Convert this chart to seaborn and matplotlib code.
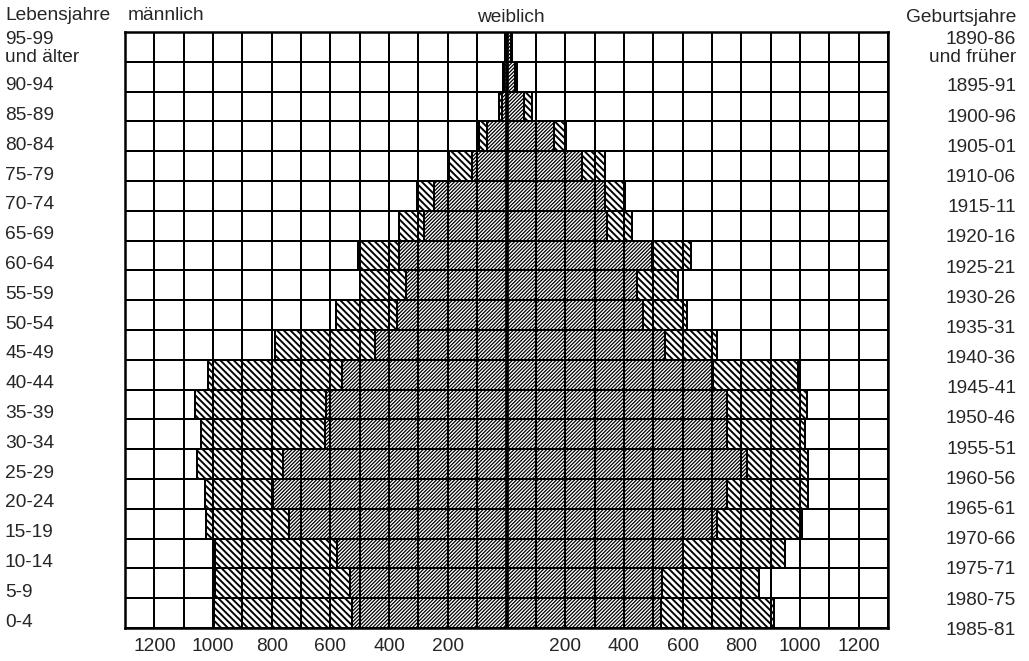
import numpy as np
import matplotlib
matplotlib.use('Agg')
import matplotlib.pyplot as plt
import matplotlib.transforms as mtransforms
from matplotlib.ticker import FixedLocator, MultipleLocator, FuncFormatter
import seaborn as sns

# Altersgruppen (oben nach unten) und Geburtsjahrgaenge
ages = ['95-99\nund älter', '90-94', '85-89', '80-84', '75-79', '70-74', '65-69',
        '60-64', '55-59', '50-54', '45-49', '40-44', '35-39', '30-34', '25-29',
        '20-24', '15-19', '10-14', '5-9', '0-4']
birth_years = ['1890-86\nund früher', '1895-91', '1900-96', '1905-01', '1910-06',
               '1915-11', '1920-16', '1925-21', '1930-26', '1935-31', '1940-36',
               '1945-41', '1950-46', '1955-51', '1960-56', '1965-61', '1970-66',
               '1975-71', '1980-75', '1985-81']

# Werte in Tausend
male_outer = [4, 12, 27, 95, 195, 305, 366, 507, 500, 582, 788, 1017, 1062, 1041,
              1055, 1027, 1024, 993, 993, 997]
male_inner = [3, 8, 17, 65, 116, 247, 281, 366, 342, 373, 449, 562, 616, 620,
              760, 795, 740, 579, 534, 527]
female_inner = [15, 30, 58, 162, 257, 336, 342, 497, 445, 466, 541, 705, 753, 750,
                818, 750, 719, 603, 531, 527]
female_outer = [18, 35, 86, 204, 336, 404, 428, 627, 586, 616, 719, 993, 1024, 1017,
                1027, 1027, 1007, 949, 860, 911]

sns.set_style('white')
plt.rcParams['font.family'] = ['Liberation Sans', 'DejaVu Sans']

W, H = 1029, 661
dpi = 120
fig = plt.figure(figsize=(W / dpi, H / dpi), dpi=dpi)
ax = fig.add_axes([125 / W, 1 - 628 / H, 763 / W, 596 / H])

# aeussere Balken (licht schraffiert)
with plt.rc_context({'hatch.linewidth': 1.15}):
    sns.barplot(x=-np.array(male_outer), y=ages, orient='h', width=1, color='white',
                edgecolor='black', linewidth=1.2, hatch='\\' * 6, saturation=1, ax=ax)
    sns.barplot(x=np.array(female_outer), y=ages, orient='h', width=1, color='white',
                edgecolor='black', linewidth=1.2, hatch='\\' * 6, saturation=1, ax=ax)
# innere Balken (dicht schraffiert)
with plt.rc_context({'hatch.linewidth': 0.75}):
    sns.barplot(x=-np.array(male_inner), y=ages, orient='h', width=1, color='white',
                edgecolor='black', linewidth=1.2, hatch='/' * 11, saturation=1, ax=ax)
    sns.barplot(x=np.array(female_inner), y=ages, orient='h', width=1, color='white',
                edgecolor='black', linewidth=1.2, hatch='/' * 11, saturation=1, ax=ax)

ax.set_xlim(-1300, 1300)
ax.set_ylim(19.5, -0.5)
ax.set_xticks(np.arange(-1200, 1201, 200))
ax.xaxis.set_minor_locator(MultipleLocator(100))
ax.yaxis.set_minor_locator(FixedLocator(np.arange(-0.5, 20, 1)))
ax.xaxis.set_major_formatter(FuncFormatter(lambda v, p: '' if v == 0 else f'{abs(int(v))}'))
ax.set_yticklabels([])
ax.set_xlabel('')
ax.set_ylabel('')
ax.tick_params(axis='both', which='both', length=0)
ax.tick_params(axis='x', pad=6, labelsize=11.5)
ax.set_axisbelow(False)
ax.xaxis.grid(True, which='both', color='black', lw=1.2)
ax.yaxis.grid(True, which='minor', color='black', lw=1.2)
ax.yaxis.grid(False, which='major')
ax.axvline(0, color='black', lw=2.2)
for s in ax.spines.values():
    s.set_visible(True)
    s.set_color('black')
    s.set_linewidth(1.5)

# Beschriftungen links und rechts
trans = mtransforms.blended_transform_factory(fig.transFigure, ax.transData)
for i, lab in enumerate(ages):
    off = 0.05 if '\n' in lab else 0.3
    fig.text(5 / W, i + off, lab, transform=trans, ha='left', va='center',
             fontsize=11.5, linespacing=1.05)
for i, lab in enumerate(birth_years):
    off = 0.05 if '\n' in lab else 0.33 + 0.013 * i
    fig.text(1016 / W, i + off, lab, transform=trans, ha='right', va='center',
             ma='right', fontsize=11.5, linespacing=1.05)

fig.text(5 / W, 1 - 15 / H, 'Lebensjahre', ha='left', va='center', fontsize=11.5)
fig.text(128 / W, 1 - 15 / H, 'männlich', ha='left', va='center', fontsize=11.5)
fig.text(511 / W, 1 - 17 / H, 'weiblich', ha='center', va='center', fontsize=11.5)
fig.text(1016 / W, 1 - 17 / H, 'Geburtsjahre', ha='right', va='center', fontsize=11.5)

fig.savefig('out.png', dpi=dpi)
